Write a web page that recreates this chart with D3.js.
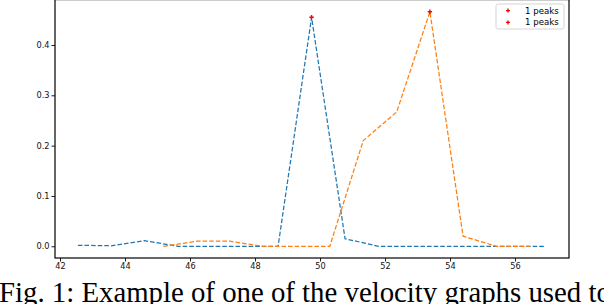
<!DOCTYPE html>
<html><head><meta charset="utf-8">
<script src="https://cdn.jsdelivr.net/npm/d3@7/dist/d3.min.js"></script>
<style>html,body{margin:0;padding:0;background:#fff;overflow:hidden}</style>
</head><body><svg id="c" width="604" height="304"></svg>
<script>
const blueX = [42.55, 43.58, 44.6, 45.63, 46.66, 47.68, 48.71, 49.74, 50.77, 51.8, 52.82, 53.85, 54.88, 55.91, 56.94];
const blueY = [0.002, 0.001, 0.011, 0.0, 0.0, 0.0, 0.0, 0.455, 0.015, 0.0, 0.0, 0.0, 0.0, 0.0, 0.0];
const orangeX = [45.18, 46.2, 47.23, 48.25, 49.28, 50.3, 51.33, 52.36, 53.38, 54.4, 55.43, 56.46];
const orangeY = [0.0, 0.01, 0.01, 0.0, 0.0, 0.0, 0.21, 0.267, 0.466, 0.02, 0.0, 0.0];
const peakX = [49.74, 53.38];
const peakY = [0.455, 0.466];
const legendLabels = ["1 peaks", "1 peaks"];
const xTicks = [42, 44, 46, 48, 50, 52, 54, 56];
const yTicks = [0.0, 0.1, 0.2, 0.3, 0.4];
const caption = "Fig. 1: Example of one of the velocity graphs used to";

const svg = d3.select("#c");
const L = 55, R = 569, T = 0, B = 258;
const x = d3.scaleLinear().domain([41.846, 57.66]).range([L, R]);
const y = d3.scaleLinear().domain([-0.0233, 0.4894]).range([B, T]);

const g = svg.append("g");
const xa = g.append("g").attr("transform", `translate(0,${B})`)
  .call(d3.axisBottom(x).tickValues(xTicks).tickSize(3.5).tickPadding(2).tickFormat(d3.format("d")));
const ya = g.append("g").attr("transform", `translate(${L},0)`)
  .call(d3.axisLeft(y).tickValues(yTicks).tickSize(3.5).tickPadding(2).tickFormat(d3.format(".1f")));
[xa, ya].forEach(a => {
  a.select(".domain").remove();
  a.selectAll("line").attr("stroke", "#000").attr("stroke-width", 0.9);
  a.selectAll("text").attr("font-family", "DejaVu Sans").attr("font-size", 8.2).attr("fill", "#111");
});

const line = d3.line().x(d => x(d[0])).y(d => y(d[1]));
const series = [
  {xs: blueX, ys: blueY, color: "#1f77b4"},
  {xs: orangeX, ys: orangeY, color: "#ff7f0e"}
];
series.forEach(s => {
  g.append("path").datum(s.xs.map((v, i) => [v, s.ys[i]]))
    .attr("d", line).attr("fill", "none").attr("stroke", s.color)
    .attr("stroke-width", 1.25).attr("stroke-dasharray", "4.6,2");
});
g.selectAll(".pk").data(peakX.map((v, i) => [v, peakY[i]])).enter().append("path")
  .attr("transform", d => `translate(${x(d[0])},${y(d[1])})`)
  .attr("d", "M-2.2,0H2.2M0,-2.2V2.2").attr("stroke", "red").attr("stroke-width", 1.4);

g.append("rect").attr("x", L).attr("y", T - 0.4).attr("width", R - L).attr("height", B - T + 0.4)
  .attr("fill", "none").attr("stroke", "#000").attr("stroke-width", 1.2);

const lg = g.append("g");
lg.append("rect").attr("x", 496).attr("y", 4).attr("width", 68).attr("height", 25).attr("rx", 2)
  .attr("fill", "#fff").attr("fill-opacity", 0.8).attr("stroke", "#d0d0d0").attr("stroke-width", 0.9);
legendLabels.forEach((t, i) => {
  const yy = 10.6 + i * 11.8;
  lg.append("path").attr("transform", `translate(508,${yy})`)
    .attr("d", "M-2,0H2M0,-2V2").attr("stroke", "red").attr("stroke-width", 1.4);
  lg.append("text").attr("x", 525).attr("y", yy).attr("dy", "0.35em")
    .attr("font-family", "DejaVu Sans").attr("font-size", 8.6).attr("fill", "#000").text(t);
});

svg.append("text").attr("x", -1).attr("y", 301.5).attr("font-family", "Liberation Serif")
  .attr("font-size", 28.8).attr("fill", "#000").text(caption);
</script></body></html>
